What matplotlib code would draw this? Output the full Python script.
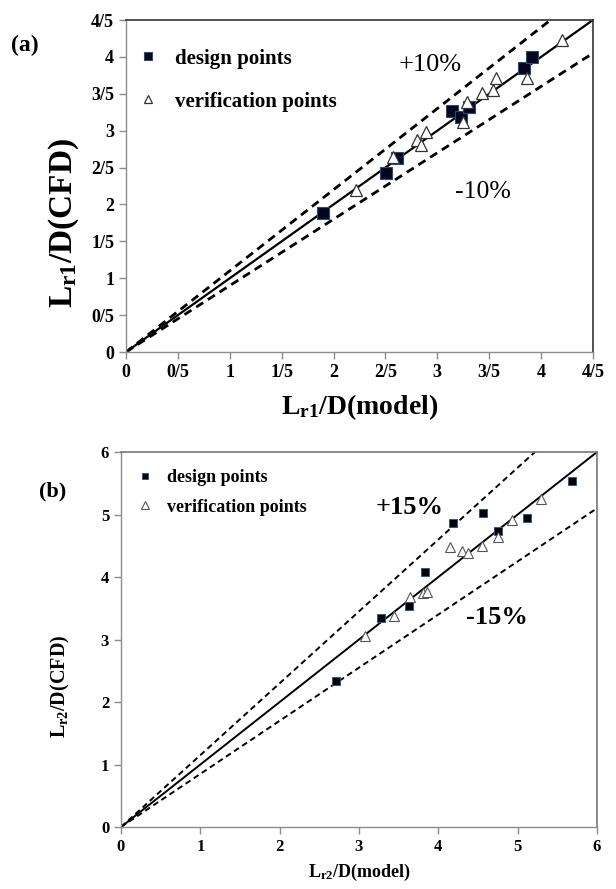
import matplotlib
matplotlib.use("Agg")
import matplotlib.pyplot as plt
import numpy as np

plt.rcParams["font.family"] = ["Liberation Serif", "DejaVu Serif"]
plt.rcParams["mathtext.fontset"] = "custom"
plt.rcParams["mathtext.rm"] = "Liberation Serif:bold"
plt.rcParams["mathtext.it"] = "Liberation Serif:bold"
plt.rcParams["mathtext.bf"] = "Liberation Serif:bold"

# ---- panel (a): Lr1/D ----
a_design_model = [1.90, 2.51, 2.61, 3.14, 3.23, 3.31, 3.84, 3.91]
a_design_cfd = [1.88, 2.43, 2.63, 3.27, 3.18, 3.32, 3.85, 4.00]
a_verif_model = [2.22, 2.57, 2.80, 2.84, 2.89, 3.25, 3.29, 3.43, 3.54, 3.57, 3.86, 4.20]
a_verif_cfd = [2.20, 2.64, 2.87, 2.80, 2.98, 3.12, 3.39, 3.51, 3.55, 3.71, 3.71, 4.23]
a_ticks = [0, 0.5, 1, 1.5, 2, 2.5, 3, 3.5, 4, 4.5]
a_ticklabels = ["0", "0/5", "1", "1/5", "2", "2/5", "3", "3/5", "4", "4/5"]

# ---- panel (b): Lr2/D ----
b_design_model = [2.71, 3.28, 3.63, 3.83, 4.19, 4.56, 4.75, 5.12, 5.69]
b_design_cfd = [2.34, 3.34, 3.54, 4.08, 4.86, 5.02, 4.74, 4.95, 5.54]
b_verif_model = [3.08, 3.44, 3.64, 3.81, 3.86, 4.15, 4.30, 4.38, 4.55, 4.75, 4.93, 5.30]
b_verif_cfd = [3.06, 3.37, 3.68, 3.74, 3.76, 4.48, 4.42, 4.38, 4.50, 4.64, 4.92, 5.25]
b_ticks = [0, 1, 2, 3, 4, 5, 6]

fig = plt.figure(figsize=(6.16, 8.89), dpi=100)


def style_axes(ax, spine_dark):
    for s in ["left", "bottom"]:
        ax.spines[s].set_color("#8c8c8c")
        ax.spines[s].set_linewidth(1.0)
    for s in ["top", "right"]:
        ax.spines[s].set_color(spine_dark)
        ax.spines[s].set_linewidth(1.2)
    ax.tick_params(direction="out", length=5, width=1, color="#8c8c8c",
                   top=False, right=False)


# panel (a)
axa = fig.add_axes([0.2045, 0.604, 0.7581, 0.3735])
lim_a = 4.5
xx = np.array([0, lim_a])
axa.plot(xx, xx, color="black", lw=1.6, zorder=2)
axa.plot(xx, 1.1 * xx, color="black", lw=2.0, ls=(0, (3, 2)), zorder=2)
axa.plot(xx, 0.9 * xx, color="black", lw=2.0, ls=(0, (3, 2)), zorder=2)
axa.plot(a_design_model, a_design_cfd, ls="none", marker="s", ms=8.5,
         mfc="#050520", mec="#2a4a70", mew=0.8, zorder=3, label="design points")
axa.plot(a_verif_model, a_verif_cfd, ls="none", marker="^", ms=9,
         mfc="white", mec="#333333", mew=0.9, zorder=4, label="verification points")
axa.set_xlim(0, lim_a)
axa.set_ylim(0, lim_a)
axa.set_xticks(a_ticks)
axa.set_yticks(a_ticks)
axa.set_xticklabels(a_ticklabels, fontsize=13, fontweight="bold")
axa.set_yticklabels(a_ticklabels, fontsize=13, fontweight="bold")
style_axes(axa, "#333333")
axa.set_xlabel("L$_{\\mathregular{r1}}$/D(model)", fontsize=20, fontweight="bold",
               labelpad=8)
axa.set_ylabel("L$_{\\mathregular{r1}}$/D(CFD)", fontsize=24, fontweight="bold",
               va="center")
axa.yaxis.set_label_coords(-0.133, 0.389)
axa.legend(loc="upper left", bbox_to_anchor=(0, 0.949), frameon=False,
           prop={"weight": "bold", "size": 15}, handletextpad=0.8,
           labelspacing=1.1, borderaxespad=0.16, handlelength=1.0,
           markerscale=0.65)
axa.text(0.651, 0.864, "+10%", transform=axa.transAxes, fontsize=19,
         ha="center", va="center")
axa.text(0.764, 0.482, "-10%", transform=axa.transAxes, fontsize=18.5,
         ha="center", va="center")
fig.text(0.04, 0.949, "(a)", fontsize=17, fontweight="bold", ha="center", va="center")

# panel (b)
axb = fig.add_axes([0.1964, 0.0697, 0.7727, 0.4218])
lim_b = 6
xx = np.array([0, lim_b])
axb.plot(xx, xx, color="black", lw=1.4, zorder=2)
axb.plot(xx, 1.15 * xx, color="black", lw=1.4, ls=(0, (3, 2)), zorder=2)
axb.plot(xx, 0.85 * xx, color="black", lw=1.4, ls=(0, (3, 2)), zorder=2)
axb.plot(b_design_model, b_design_cfd, ls="none", marker="s", ms=5.5,
         mfc="black", mec="#2a5a90", mew=0.7, zorder=3, label="design points")
axb.plot(b_verif_model, b_verif_cfd, ls="none", marker="^", ms=6.5,
         mfc="white", mec="#555555", mew=0.8, zorder=4, label="verification points")
axb.set_xlim(0, lim_b)
axb.set_ylim(0, lim_b)
axb.set_xticks(b_ticks)
axb.set_yticks(b_ticks)
axb.set_xticklabels([str(t) for t in b_ticks], fontsize=12, fontweight="bold")
axb.set_yticklabels([str(t) for t in b_ticks], fontsize=12, fontweight="bold")
style_axes(axb, "#777777")
axb.set_xlabel("L$_{\\mathregular{r2}}$/D(model)", fontsize=13, fontweight="bold",
               labelpad=5)
axb.set_ylabel("L$_{\\mathregular{r2}}$/D(CFD)", fontsize=14.5, fontweight="bold",
               va="center")
axb.yaxis.set_label_coords(-0.128, 0.375)
axb.legend(loc="upper left", bbox_to_anchor=(0, 0.995), frameon=False,
           prop={"weight": "bold", "size": 13}, handletextpad=0.72,
           labelspacing=0.7, borderaxespad=0.43, handlelength=1.0,
           markerscale=0.85)
axb.text(0.607, 0.853, "+15%", transform=axb.transAxes, fontsize=19,
         fontweight="bold", ha="center", va="center")
axb.text(0.790, 0.56, "-15%", transform=axb.transAxes, fontsize=19,
         fontweight="bold", ha="center", va="center")
fig.text(0.085, 0.447, "(b)", fontsize=16, fontweight="bold", ha="center", va="center")

fig.savefig("out.png", dpi=100)
